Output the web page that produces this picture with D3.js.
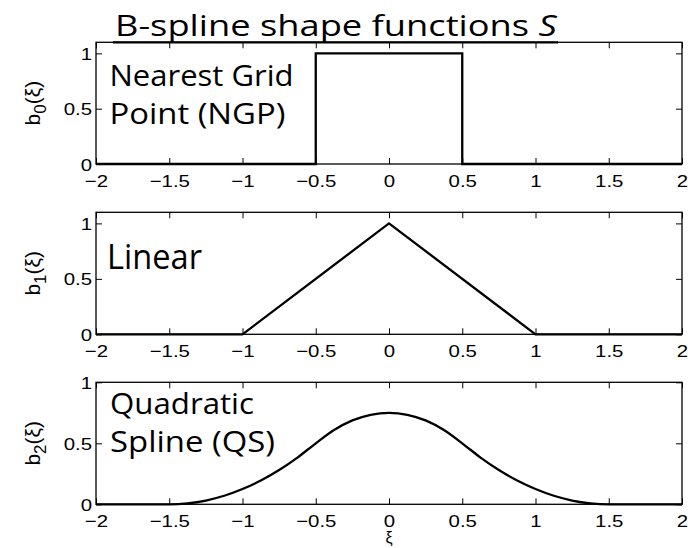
<!DOCTYPE html>
<html>
<head>
<meta charset="utf-8">
<script src="https://cdn.jsdelivr.net/npm/d3@7"></script>
<style>
  html, body { margin: 0; padding: 0; background: #fff; }
  svg { display: block; }
</style>
</head>
<body>
<svg id="chart" width="700" height="548"></svg>
<script>
// B-spline shape functions of order 0, 1 and 2 sampled on xi
const xTicks = [-2, -1.5, -1, -0.5, 0, 0.5, 1, 1.5, 2];
const yTicks = [0, 0.5, 1];

// Order 0: nearest grid point (top-hat)
const ngpX = [-2, -0.5, -0.5, 0.5, 0.5, 2];
const ngpY = [0, 0, 1, 1, 0, 0];

// Order 1: linear (tent)
const linX = [-2, -1, 0, 1, 2];
const linY = [0, 0, 1, 0, 0];

// Order 2: quadratic spline
const qsX = [-2, -1.75, -1.5, -1.375, -1.25, -1.125, -1, -0.875, -0.75, -0.625, -0.5, -0.375, -0.25, -0.125, 0,
             0.125, 0.25, 0.375, 0.5, 0.625, 0.75, 0.875, 1, 1.125, 1.25, 1.375, 1.5, 1.75, 2];
const qsY = [0, 0, 0, 0.008, 0.031, 0.070, 0.125, 0.195, 0.281, 0.383, 0.5, 0.609, 0.688, 0.734, 0.75,
             0.734, 0.688, 0.609, 0.5, 0.383, 0.281, 0.195, 0.125, 0.070, 0.031, 0.008, 0, 0, 0];

const panels = [
  { top: 42.3, bottom: 164, yMax: 1.1, xs: ngpX, ys: ngpY, sub: "0", curve: d3.curveLinear,
    labels: [{ t: "Nearest Grid", x: 109.5, y: 85.5, size: 29, w: 184 },
             { t: "Point (NGP)", x: 109.5, y: 123.5, size: 29, w: 176 }] },
  { top: 212.3, bottom: 334.3, yMax: 1.1, xs: linX, ys: linY, sub: "1", curve: d3.curveLinear,
    labels: [{ t: "Linear", x: 107, y: 269, size: 34, w: 95 }] },
  { top: 382.3, bottom: 504.3, yMax: 1.0, xs: qsX, ys: qsY, sub: "2", curve: d3.curveMonotoneX,
    labels: [{ t: "Quadratic", x: 110, y: 413.5, size: 29, w: 144 },
             { t: "Spline (QS)", x: 110, y: 452, size: 29, w: 165 }] }
];

const svg = d3.select("#chart");
const left = 96, right = 682;
const x = d3.scaleLinear().domain([-2, 2]).range([left, right]);
const tickFont = "'Liberation Sans', Arial, sans-serif";
const textFont = "'Open Sans', 'Noto Sans', sans-serif";
const tickLen = 6;
const tickStretch = 1.2;

// places a text element at (x, y) and stretches it horizontally to width w
function fitText(sel, tx, ty, w) {
  sel.attr("x", 0).attr("y", 0);
  const bw = sel.node().getComputedTextLength();
  sel.attr("transform", `translate(${tx},${ty}) scale(${w / bw},1)`);
}

// stretches axis tick labels about their own anchor point
function stretchTicks(axisG) {
  axisG.selectAll("text").each(function () {
    const t = d3.select(this);
    const tx = +t.attr("x") || 0, ty = +t.attr("y") || 0;
    t.attr("x", 0).attr("y", 0)
      .attr("transform", `translate(${tx},${ty}) scale(${tickStretch},1)`);
  });
}

panels.forEach(p => {
  const y = d3.scaleLinear().domain([0, p.yMax]).range([p.bottom, p.top]);
  const g = svg.append("g");

  // data line
  const pts = p.xs.map((v, i) => [v, p.ys[i]]);
  g.append("path")
    .datum(pts)
    .attr("fill", "none")
    .attr("stroke", "#000")
    .attr("stroke-width", 2.3)
    .attr("stroke-linejoin", "miter")
    .attr("d", d3.line().x(d => x(d[0])).y(d => y(d[1])).curve(p.curve));

  // axes with inward ticks on all four sides
  const bottomAxis = g.append("g").attr("transform", `translate(0,${p.bottom})`)
    .call(d3.axisBottom(x).tickValues(xTicks).tickSizeInner(-tickLen).tickSizeOuter(0)
      .tickFormat(d3.format("")));
  const topAxis = g.append("g").attr("transform", `translate(0,${p.top})`)
    .call(d3.axisTop(x).tickValues(xTicks).tickSizeInner(-tickLen).tickSizeOuter(0).tickFormat(""));
  const leftAxis = g.append("g").attr("transform", `translate(${left},0)`)
    .call(d3.axisLeft(y).tickValues(yTicks).tickSizeInner(-tickLen).tickSizeOuter(0)
      .tickFormat(d3.format("")));
  const rightAxis = g.append("g").attr("transform", `translate(${right},0)`)
    .call(d3.axisRight(y).tickValues(yTicks).tickSizeInner(-tickLen).tickSizeOuter(0).tickFormat(""));

  [bottomAxis, topAxis, leftAxis, rightAxis].forEach(a => {
    a.select(".domain").remove();
    a.selectAll("line").attr("stroke", "#000").attr("stroke-width", 1);
    a.selectAll("text").attr("fill", "#000").style("font-family", tickFont).style("font-size", "17px");
  });
  bottomAxis.selectAll("text").attr("y", 10.5).attr("dy", "0.71em");
  leftAxis.selectAll("text").attr("x", -4).attr("dy", "0.36em");
  stretchTicks(bottomAxis);
  stretchTicks(leftAxis);

  // axes box
  g.append("rect")
    .attr("x", left).attr("y", p.top)
    .attr("width", right - left).attr("height", p.bottom - p.top)
    .attr("fill", "none").attr("stroke", "#000").attr("stroke-width", 1.3);

  // y label b_n(ξ)
  const yl = g.append("text")
    .attr("transform", `translate(40,${(p.top + p.bottom) / 2}) rotate(-90)`)
    .attr("text-anchor", "middle")
    .style("font-family", tickFont).style("font-size", "21px").attr("fill", "#000");
  yl.append("tspan").text("b");
  yl.append("tspan").attr("dy", 6).style("font-size", "17px").text(p.sub);
  yl.append("tspan").attr("dy", -6).text("(ξ)");

  // in-panel name
  p.labels.forEach(l => {
    const t = g.append("text")
      .style("font-family", textFont).style("font-size", l.size + "px").attr("fill", "#000")
      .text(l.t);
    fitText(t, l.x, l.y, l.w);
  });
});

// x label
svg.append("text").attr("x", x(0)).attr("y", 543).attr("text-anchor", "middle")
  .style("font-family", tickFont).style("font-size", "16px").attr("fill", "#000").text("ξ");

// title with underline
const title = svg.append("text")
  .style("font-family", textFont).style("font-size", "30px").attr("fill", "#000");
title.append("tspan").text("B-spline shape functions ");
title.append("tspan").style("font-style", "italic").text("S");
fitText(title, 115, 36, 442);
svg.append("line")
  .attr("x1", 113).attr("x2", 558)
  .attr("y1", 42.3).attr("y2", 42.3)
  .attr("stroke", "#000").attr("stroke-width", 2.2);
</script>
</body>
</html>
